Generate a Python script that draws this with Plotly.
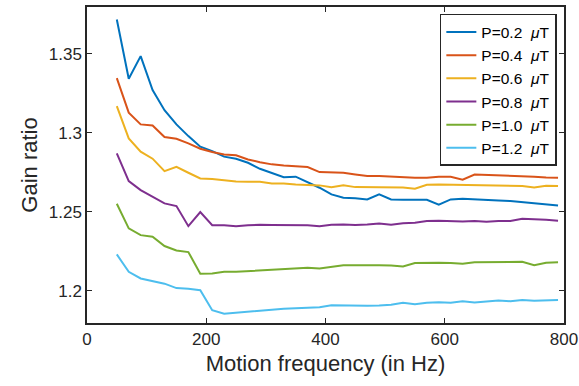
import plotly.graph_objects as go

freq = [50, 70, 90, 110, 130, 150, 170, 190, 210, 230, 250, 270, 290, 310, 330, 350, 370, 390, 410, 430,
        450, 470, 490, 510, 530, 550, 570, 590, 610, 630, 650, 670, 690, 710, 730, 750, 770, 790]

p02 = [1.3718, 1.3343, 1.3486, 1.3271, 1.3144, 1.3054, 1.2980, 1.2913, 1.2885, 1.2850,
       1.2837, 1.2811, 1.2773, 1.2748, 1.2720, 1.2723, 1.2689, 1.2653, 1.2611, 1.2590,
       1.2587, 1.2579, 1.2611, 1.2579, 1.2577, 1.2575, 1.2577, 1.2546, 1.2579, 1.2583,
       1.2581, 1.2577, 1.2573, 1.2569, 1.2562, 1.2556, 1.2549, 1.2541]
p04 = [1.3347, 1.3128, 1.3054, 1.3047, 1.2974, 1.2963, 1.2934, 1.2900, 1.2879, 1.2864,
       1.2858, 1.2832, 1.2815, 1.2801, 1.2794, 1.2788, 1.2784, 1.2752, 1.2748, 1.2748,
       1.2737, 1.2727, 1.2727, 1.2723, 1.2718, 1.2716, 1.2716, 1.2723, 1.2723, 1.2704,
       1.2737, 1.2735, 1.2733, 1.2731, 1.2727, 1.2723, 1.2718, 1.2716]
p06 = [1.3170, 1.2965, 1.2881, 1.2837, 1.2758, 1.2786, 1.2748, 1.2712, 1.2708, 1.2701,
       1.2693, 1.2691, 1.2691, 1.2680, 1.2680, 1.2674, 1.2670, 1.2668, 1.2657, 1.2668,
       1.2657, 1.2657, 1.2653, 1.2653, 1.2655, 1.2647, 1.2672, 1.2674, 1.2672, 1.2670,
       1.2668, 1.2666, 1.2666, 1.2666, 1.2664, 1.2655, 1.2666, 1.2664]
p08 = [1.2870, 1.2695, 1.2638, 1.2596, 1.2554, 1.2537, 1.2410, 1.2499, 1.2416, 1.2416,
       1.2410, 1.2415, 1.2419, 1.2417, 1.2417, 1.2415, 1.2415, 1.2410, 1.2419, 1.2420,
       1.2417, 1.2420, 1.2427, 1.2419, 1.2429, 1.2432, 1.2442, 1.2444, 1.2441, 1.2440,
       1.2442, 1.2438, 1.2442, 1.2442, 1.2457, 1.2455, 1.2450, 1.2444]
p10 = [1.2552, 1.2396, 1.2353, 1.2343, 1.2284, 1.2256, 1.2246, 1.2109, 1.2111, 1.2121,
       1.2121, 1.2125, 1.2132, 1.2136, 1.2140, 1.2142, 1.2147, 1.2142, 1.2151, 1.2163,
       1.2163, 1.2165, 1.2163, 1.2161, 1.2155, 1.2176, 1.2178, 1.2178, 1.2176, 1.2172,
       1.2182, 1.2182, 1.2184, 1.2184, 1.2184, 1.2163, 1.2178, 1.2182]
p12 = [1.2231, 1.2121, 1.2079, 1.2062, 1.2046, 1.2018, 1.2014, 1.2005, 1.1878, 1.1856,
       1.1862, 1.1872, 1.1878, 1.1883, 1.1887, 1.1891, 1.1893, 1.1897, 1.1910, 1.1908,
       1.1906, 1.1906, 1.1908, 1.1912, 1.1925, 1.1916, 1.1925, 1.1929, 1.1925, 1.1935,
       1.1927, 1.1935, 1.1940, 1.1935, 1.1942, 1.1938, 1.1942, 1.1942]

labels = ["P=0.2", "P=0.4", "P=0.6", "P=0.8", "P=1.0", "P=1.2"]
series = [p02, p04, p06, p08, p10, p12]
colors = ["#0072BD", "#D95319", "#EDB120", "#7E2F8E", "#77AC30", "#4DBEEE"]

xticks = [0, 200, 400, 600, 800]
yticks = [1.2, 1.25, 1.3, 1.35]
ytick_text = ["1.2", "1.25", "1.3", "1.35"]

fig = go.Figure()
for lab, ys, c in zip(labels, series, colors):
    fig.add_trace(go.Scatter(x=freq, y=ys, mode="lines", name=lab + "\u00a0 <i>μ</i>T",
                             line=dict(color=c, width=2)))

axcol = "#262626"
font = "Liberation Sans, Arial, sans-serif"
fig.update_layout(
    width=579, height=386,
    margin=dict(l=87, r=15, t=7, b=63, autoexpand=False),
    paper_bgcolor="white", plot_bgcolor="white",
    font=dict(family=font, color=axcol, size=17),
    showlegend=True,
    legend=dict(x=0.985, y=0.978, xanchor="right", yanchor="top",
                bgcolor="white", bordercolor=axcol, borderwidth=1.5,
                font=dict(size=15.5, family=font, color="black"),
                tracegroupgap=0),
)
fig.update_xaxes(range=[0, 800], tickvals=xticks, ticks="inside", ticklen=5, tickwidth=1,
                 tickcolor=axcol, showline=True, linecolor=axcol, linewidth=1.5, mirror="ticks",
                 showgrid=False, zeroline=False, ticklabeloverflow="allow", automargin=False,
                 title=dict(text="Motion frequency (in Hz)", font=dict(size=22), standoff=7),
                 tickfont=dict(size=17))
fig.update_yaxes(range=[1.1797, 1.3797], tickvals=yticks, ticktext=ytick_text, ticks="inside",
                 ticklen=5, tickwidth=1, tickcolor=axcol, showline=True, linecolor=axcol,
                 linewidth=1.5, mirror="ticks", showgrid=False, zeroline=False,
                 ticklabeloverflow="allow", automargin=False,
                 title=dict(text="Gain ratio", font=dict(size=22), standoff=5),
                 tickfont=dict(size=17))

fig.write_html("out.html")
